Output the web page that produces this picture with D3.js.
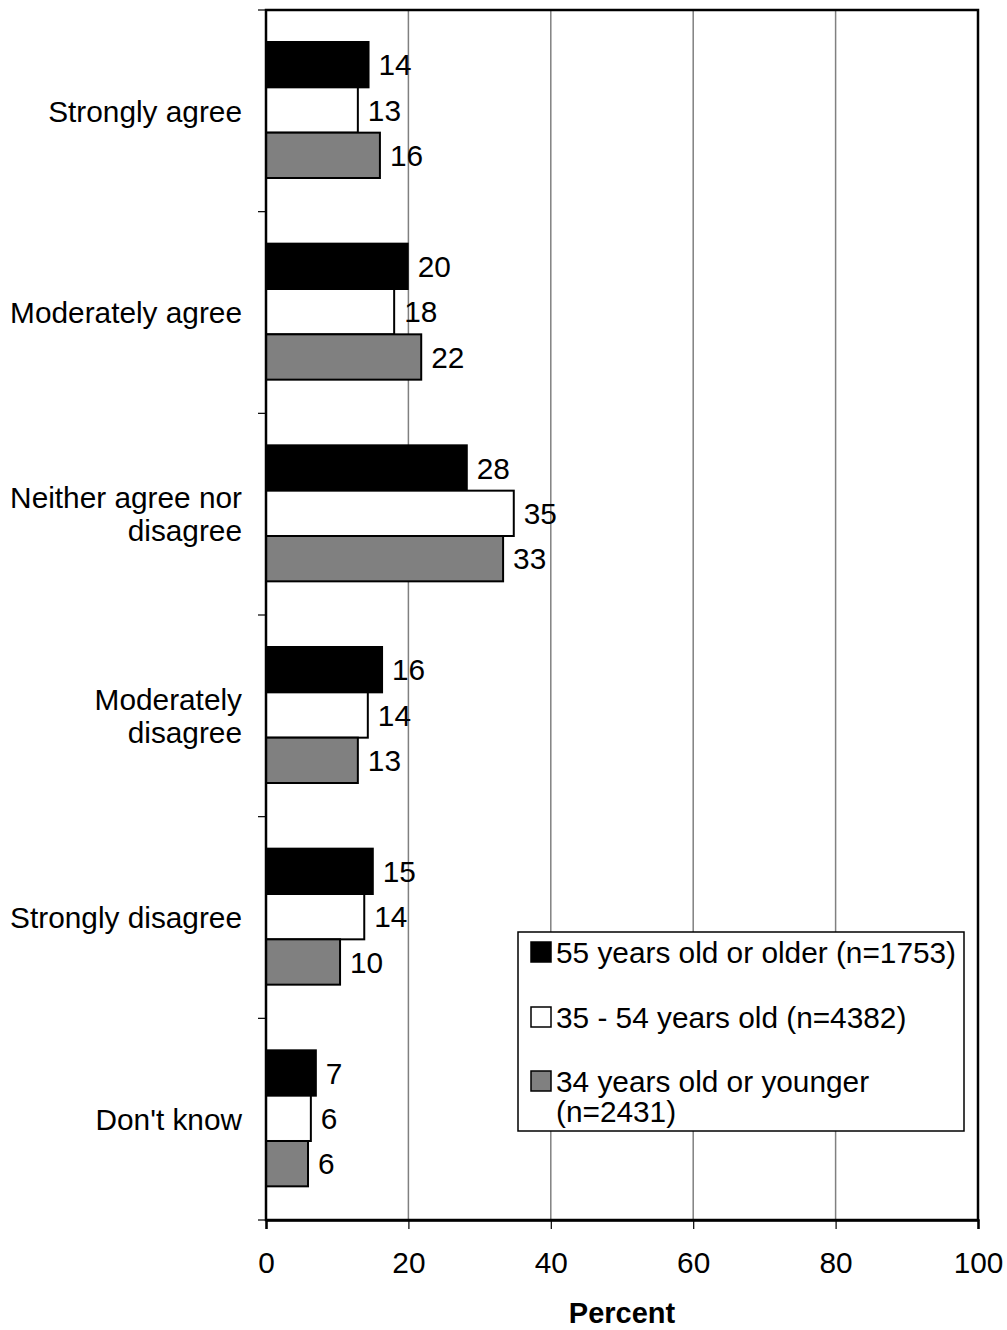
<!DOCTYPE html>
<html>
<head>
<meta charset="utf-8">
<script src="https://cdn.jsdelivr.net/npm/d3@7"></script>
<style>
  body { margin: 0; background: #fff; }
  text { font-family: "Liberation Sans", Arial, sans-serif; fill: #000; }
</style>
</head>
<body>
<svg id="chart" width="1007" height="1330"></svg>
<script>
const categories = [
  ["Strongly agree"],
  ["Moderately agree"],
  ["Neither agree nor", "disagree"],
  ["Moderately", "disagree"],
  ["Strongly disagree"],
  ["Don't know"]
];
const seriesNames = [
  "55 years old or older (n=1753)",
  "35 - 54 years old (n=4382)",
  "34 years old or younger (n=2431)"
];
const older = [14.4, 19.9, 28.2, 16.3, 15.0, 7.0];
const middle = [12.9, 18.0, 34.8, 14.3, 13.8, 6.3];
const younger = [16.0, 21.8, 33.3, 12.9, 10.4, 5.9];
const xTicks = [0, 20, 40, 60, 80, 100];
const colors = ["#000000", "#ffffff", "#808080"];

const svg = d3.select("#chart");
const L = 266, R = 978, T = 10, B = 1220;
const FS = 29.8;

const x = d3.scaleLinear().domain([0, 100]).range([L, R]);
const catKeys = categories.map(c => c.join(" "));
const y = d3.scaleBand().domain(catKeys).range([T, B]).padding(0);
const y1 = d3.scaleBand().domain([0, 1, 2]).range([32, 168]).padding(0);
const seriesVals = [older, middle, younger];

// gridlines
svg.append("g").selectAll("line").data(xTicks.filter(t => t > 0 && t < 100)).join("line")
  .attr("x1", d => x(d)).attr("x2", d => x(d)).attr("y1", T).attr("y2", B)
  .attr("stroke", "#808080").attr("stroke-width", 1.5);

// bars
const groups = svg.append("g").selectAll("g").data(catKeys).join("g")
  .attr("transform", d => `translate(0,${y(d)})`);
groups.each(function(cat, ci) {
  const g = d3.select(this);
  seriesVals.forEach((vals, si) => {
    const v = vals[ci];
    g.append("rect")
      .attr("x", x(0)).attr("y", y1(si))
      .attr("width", x(v) - x(0)).attr("height", y1.bandwidth())
      .attr("fill", colors[si]).attr("stroke", "#000").attr("stroke-width", 2);
    g.append("text")
      .attr("x", x(v) + 10).attr("y", y1(si) + y1.bandwidth() / 2)
      .attr("dy", "0.36em").attr("font-size", FS)
      .text(Math.round(v));
  });
});

// frame
svg.append("rect").attr("x", L).attr("y", T).attr("width", R - L).attr("height", B - T)
  .attr("fill", "none").attr("stroke", "#000").attr("stroke-width", 2.5);

// x axis
const xAxis = d3.axisBottom(x).tickValues(xTicks).tickSize(9).tickPadding(23).tickFormat(d3.format("d"));
const gx = svg.append("g").attr("transform", `translate(0,${B})`).call(xAxis);
gx.select(".domain").attr("stroke", "#000").attr("stroke-width", 2.5);
gx.selectAll(".tick line").attr("stroke", "#000").attr("stroke-width", 1.2);
gx.selectAll(".tick text").attr("font-size", FS).attr("font-family", "Liberation Sans, Arial, sans-serif").attr("fill", "#000");

// y axis ticks at category boundaries
const bounds = catKeys.map(k => y(k)).concat([B]);
svg.append("g").selectAll("line").data(bounds).join("line")
  .attr("x1", L - 8).attr("x2", L).attr("y1", d => d).attr("y2", d => d)
  .attr("stroke", "#000").attr("stroke-width", 1.2);

// category labels
const lh = 33;
svg.append("g").selectAll("text").data(categories).join("text")
  .attr("text-anchor", "end").attr("font-size", FS)
  .attr("transform", (d, i) => `translate(242,${y(catKeys[i]) + y.bandwidth() / 2})`)
  .each(function(lines) {
    const t = d3.select(this);
    const off = -(lines.length - 1) * lh / 2;
    lines.forEach((ln, j) => {
      t.append("tspan").attr("x", 0).attr("y", off + j * lh).attr("dy", "0.36em").text(ln);
    });
  });

// axis title
svg.append("text").attr("x", x(50)).attr("y", 1323).attr("text-anchor", "middle")
  .attr("font-size", 29).attr("font-weight", "bold").text("Percent");

// legend
const lg = svg.append("g");
lg.append("rect").attr("x", 518).attr("y", 932).attr("width", 446).attr("height", 199)
  .attr("fill", "#fff").attr("stroke", "#000").attr("stroke-width", 1.5);
const legendRows = [
  { lines: [seriesNames[0]], yc: 952 },
  { lines: [seriesNames[1]], yc: 1017 },
  { lines: ["34 years old or younger", "(n=2431)"], yc: 1081 }
];
legendRows.forEach((r, i) => {
  lg.append("rect").attr("x", 531).attr("y", r.yc - 10).attr("width", 20).attr("height", 20)
    .attr("fill", colors[i]).attr("stroke", "#000").attr("stroke-width", 1.5);
  const t = lg.append("text").attr("font-size", FS);
  r.lines.forEach((ln, j) => {
    t.append("tspan").attr("x", 556).attr("y", r.yc + j * 30).attr("dy", "0.36em").text(ln);
  });
});
</script>
</body>
</html>
